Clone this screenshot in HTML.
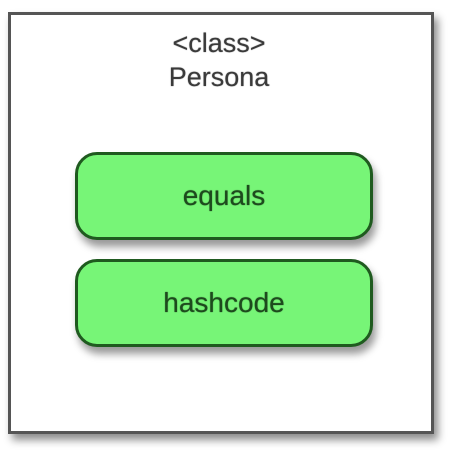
<!DOCTYPE html>
<html><head><meta charset="utf-8"><style>
html,body{margin:0;padding:0;width:450px;height:451px;background:#fff;overflow:hidden;position:relative;font-family:"Liberation Sans",Arial,sans-serif}
.outer{position:absolute;left:8px;top:12px;width:420px;height:416px;border:3px solid #555;background:#fff;box-shadow:4px 6px 8px rgba(0,0,0,0.45)}
.t{position:absolute;left:-6px;width:450px;text-align:center;color:#3a3a3a;font-size:27px;line-height:27px;text-shadow:0 0 1px #666}
.b{position:absolute;left:75px;width:292px;height:82px;border:3px solid #1f5a1f;border-radius:22px;background:#77f577;box-shadow:3px 7px 8px rgba(0,0,0,0.4);text-align:center;line-height:82px;font-size:28px;color:#1d4a1d;text-shadow:0 0 1px #2a5a2a}
</style></head><body>
<div class="outer"></div>
<div class="t" style="top:30px">&lt;class&gt;</div>
<div class="t" style="top:64px">Persona</div>
<div class="b" style="top:152px">equals</div>
<div class="b" style="top:259px">hashcode</div>
</body></html>
